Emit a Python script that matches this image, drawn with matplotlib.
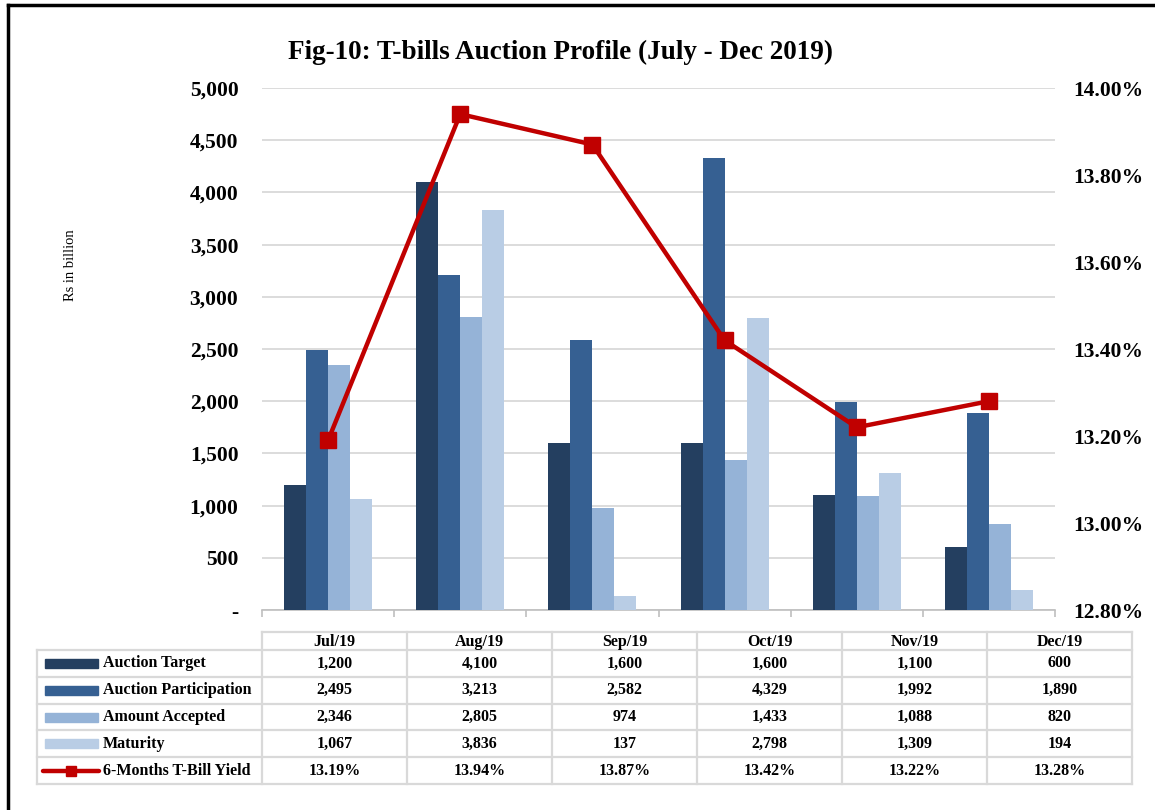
import numpy as np
import matplotlib
matplotlib.use('Agg')
import matplotlib.pyplot as plt
from matplotlib.lines import Line2D
from matplotlib.patches import Rectangle

plt.rcParams['font.family'] = ['Liberation Serif', 'DejaVu Serif']

months = ['Jul/19', 'Aug/19', 'Sep/19', 'Oct/19', 'Nov/19', 'Dec/19']
auction_target = [1200, 4100, 1600, 1600, 1100, 600]
auction_participation = [2495, 3213, 2582, 4329, 1992, 1890]
amount_accepted = [2346, 2805, 974, 1433, 1088, 820]
maturity = [1067, 3836, 137, 2798, 1309, 194]
yield_6m = [13.19, 13.94, 13.87, 13.42, 13.22, 13.28]

bar_names = ['Auction Target', 'Auction Participation', 'Amount Accepted', 'Maturity']
line_name = '6-Months T-Bill Yield'
bar_colors = ['#243F60', '#366092', '#95B3D7', '#B9CDE5']
red = '#C00000'
grid_c = '#D9D9D9'

W, H = 1155, 810
fig = plt.figure(figsize=(W / 100, H / 100), dpi=100)

# plot area (pixels -> figure fractions)
px_l, px_r, px_t, px_b = 262, 1055, 88, 610
ax = fig.add_axes([px_l / W, 1 - px_b / H, (px_r - px_l) / W, (px_b - px_t) / H])

x = np.arange(len(months))
bw = 1 / 6
series = [auction_target, auction_participation, amount_accepted, maturity]
for k, (vals, col) in enumerate(zip(series, bar_colors)):
    ax.bar(x + (k - 1.5) * bw, vals, width=bw, color=col, zorder=3)

ax.set_xlim(-0.5, len(months) - 0.5)
ax.set_ylim(0, 5000)
ax.set_yticks(np.arange(0, 5001, 500))
ax.set_yticklabels(['-'] + [f'{v:,}' for v in range(500, 5001, 500)],
                   fontsize=15.5, fontweight='bold')
ax.yaxis.grid(True, color=grid_c, linewidth=1.3, zorder=0)
ax.tick_params(axis='y', length=0, pad=17)
ax.set_xticks(np.arange(-0.5, len(months), 1.0))
ax.set_xticklabels([])
ax.tick_params(axis='x', length=5, color='#BFBFBF', width=1.2)
for s in ['left', 'right', 'top']:
    ax.spines[s].set_visible(False)
ax.spines['bottom'].set_color('#BFBFBF')
ax.spines['bottom'].set_linewidth(1.2)

fig.text(70 / W, 1 - 265 / H, 'Rs in billion', rotation=90, ha='center',
         va='center', fontsize=10.5)

ax2 = ax.twinx()
ax2.plot(x, yield_6m, color=red, linewidth=3.2, marker='s', markersize=12, zorder=5)
ax2.set_ylim(12.8, 14.0)
ax2.set_yticks(np.arange(12.8, 14.01, 0.2))
ax2.set_yticklabels([f'{v:.2f}%' for v in np.arange(12.8, 14.01, 0.2)],
                    fontsize=15.5, fontweight='bold')
ax2.tick_params(axis='y', length=0, pad=13)
for s in ['left', 'right', 'top', 'bottom']:
    ax2.spines[s].set_visible(False)

fig.text(0.485, 1 - 52 / H, 'Fig-10: T-bills Auction Profile (July - Dec 2019)',
         ha='center', va='center', fontsize=19.5, fontweight='bold')

# data table under the chart, drawn in pixel coordinates
tax = fig.add_axes([0, 0, 1, 1], facecolor='none')
tax.set_xlim(0, W)
tax.set_ylim(H, 0)
tax.axis('off')

tab_l, tab_c0, col_w = 37, 262, 145
head_t, head_b, row_h = 632, 650, 26.8
n_rows = 5
tab_r = tab_c0 + col_w * len(months)
tab_b = head_b + row_h * n_rows
lw = 1.6
fs = 11.5

tax.plot([tab_c0, tab_r], [head_t, head_t], color=grid_c, lw=lw)
for i in range(n_rows + 1):
    yy = head_b + i * row_h
    tax.plot([tab_l, tab_r], [yy, yy], color=grid_c, lw=lw)
tax.plot([tab_l, tab_l], [head_b, tab_b], color=grid_c, lw=lw)
for j in range(len(months) + 1):
    xx = tab_c0 + j * col_w
    tax.plot([xx, xx], [head_t, tab_b], color=grid_c, lw=lw)

for j, m in enumerate(months):
    tax.text(tab_c0 + (j + 0.5) * col_w, (head_t + head_b) / 2 + 1, m,
             ha='center', va='center', fontsize=fs, fontweight='bold')

rows = [[f'{v:,}' for v in s] for s in series] + [[f'{v:.2f}%' for v in yield_6m]]
names = bar_names + [line_name]
for i, (name, vals) in enumerate(zip(names, rows)):
    yc = head_b + (i + 0.5) * row_h
    if i < len(bar_colors):
        tax.add_patch(Rectangle((45, yc - 4.5), 53, 9, color=bar_colors[i]))
    else:
        tax.plot([43, 99], [yc, yc], color=red, lw=3.2, solid_capstyle='round')
        tax.plot([71], [yc], marker='s', color=red, markersize=7.5)
    tax.text(103, yc, name, ha='left', va='center', fontsize=fs, fontweight='bold')
    for j, v in enumerate(vals):
        tax.text(tab_c0 + (j + 0.5) * col_w, yc, v, ha='center', va='center',
                 fontsize=fs, fontweight='bold')

# outer frame (left and top edges visible)
fig.add_artist(Line2D([8 / W, 8 / W], [0, 1 - 5 / H], color='black', lw=2.5,
                      transform=fig.transFigure))
fig.add_artist(Line2D([8 / W, 1], [1 - 5 / H, 1 - 5 / H], color='black', lw=2.5,
                      transform=fig.transFigure))

fig.savefig('out.png', dpi=100)
